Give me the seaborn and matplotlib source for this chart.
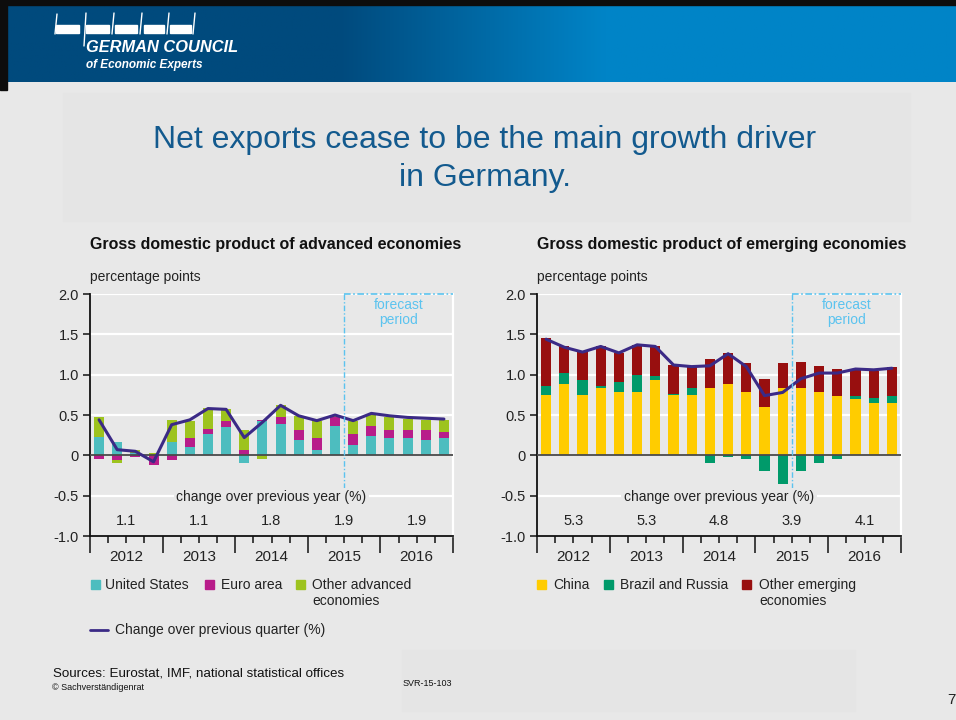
import numpy as np
import matplotlib
matplotlib.use("Agg")
import matplotlib.pyplot as plt
from matplotlib.patches import Rectangle
from matplotlib.lines import Line2D
import seaborn as sns

# ---------------------------------------------------------------- data
years = ["2012", "2013", "2014", "2015", "2016"]
quarters = [f"{y}Q{q}" for y in years for q in range(1, 5)]
forecast_start = "2015Q3"

adv_labels = ["United States", "Euro area", "Other advanced\neconomies"]
us = [0.23, 0.17, 0.03, 0.00, 0.17, 0.10, 0.27, 0.35, -0.09, 0.42,
      0.39, 0.19, 0.06, 0.36, 0.13, 0.24, 0.22, 0.21, 0.19, 0.21]
euro = [-0.04, -0.06, -0.025, -0.12, -0.06, 0.11, 0.06, 0.07, 0.06, 0.02,
        0.08, 0.12, 0.15, 0.12, 0.13, 0.12, 0.10, 0.10, 0.12, 0.08]
other_adv = [0.25, -0.04, 0.04, 0.03, 0.27, 0.22, 0.26, 0.15, 0.25, -0.04,
             0.15, 0.18, 0.21, 0.01, 0.17, 0.14, 0.16, 0.14, 0.13, 0.15]
adv_qoq = [0.44, 0.07, 0.05, -0.08, 0.38, 0.44, 0.58, 0.57, 0.22, 0.41,
           0.62, 0.49, 0.43, 0.50, 0.43, 0.52, 0.49, 0.47, 0.46, 0.45]
adv_yoy = ["1.1", "1.1", "1.8", "1.9", "1.9"]

em_labels = ["China", "Brazil and Russia", "Other emerging\neconomies"]
china = [0.75, 0.88, 0.75, 0.84, 0.79, 0.79, 0.93, 0.75, 0.75, 0.84,
         0.89, 0.79, 0.60, 0.84, 0.84, 0.78, 0.73, 0.70, 0.65, 0.65]
bra_rus = [0.11, 0.14, 0.18, 0.02, 0.12, 0.21, 0.05, 0.01, 0.08, -0.09,
           -0.02, -0.05, -0.20, -0.36, -0.20, -0.09, -0.04, 0.03, 0.06, 0.09]
other_em = [0.59, 0.33, 0.36, 0.49, 0.36, 0.37, 0.38, 0.36, 0.27, 0.36,
            0.38, 0.35, 0.35, 0.31, 0.32, 0.33, 0.34, 0.33, 0.34, 0.35]
em_qoq = [1.44, 1.34, 1.28, 1.35, 1.27, 1.37, 1.35, 1.12, 1.10, 1.11,
          1.26, 1.10, 0.74, 0.78, 0.95, 1.02, 1.02, 1.07, 1.06, 1.08]
em_yoy = ["5.3", "5.3", "4.8", "3.9", "4.1"]

y_ticks = [-1.0, -0.5, 0.0, 0.5, 1.0, 1.5, 2.0]
y_ticklabels = ["-1.0", "-0.5", "0", "0.5", "1.0", "1.5", "2.0"]

# ---------------------------------------------------------------- style
BG = "#e8e8e8"
BOX = "#e5e5e5"
LINE = "#3b2a86"
FCST = "#5bc3ef"
adv_colors = ["#4dbdbf", "#b81c8a", "#9dc31e"]
em_colors = ["#ffcc00", "#009a6a", "#980f0f"]

sns.set_theme(style="white", rc={"axes.facecolor": BG, "figure.facecolor": BG})
plt.rcParams["font.family"] = ["Liberation Sans", "DejaVu Sans"]

W, H = 956, 720
fig = plt.figure(figsize=(W / 100, H / 100), dpi=100)


def fx(px):
    return px / W


def fy(py):
    return 1 - py / H


# ---------------------------------------------------------------- header
hdr = fig.add_axes([fx(7), fy(82), fx(W - 7), (82 - 5) / H])
xs = np.linspace(0, 1, 600)
ramp = np.clip((xs - 0.35) / 0.28, 0, 1)
c0 = np.array([0, 74, 125]) / 255
c1 = np.array([0, 132, 199]) / 255
grad = (c0[None, :] * (1 - ramp[:, None]) + c1[None, :] * ramp[:, None])[None, :, :]
hdr.imshow(grad, aspect="auto", extent=[0, 1, 0, 1])
hdr.set_axis_off()
fig.patches.append(Rectangle((0, fy(5)), 1, 5 / H, transform=fig.transFigure,
                             color="#0d0d0d", zorder=10))
fig.patches.append(Rectangle((0, fy(90)), fx(7), 90 / H, transform=fig.transFigure,
                             color="#0d0d0d", zorder=10))

# logo: bar strip with slanted separators
segs = [(54, 80), (84, 110), (113, 138), (142, 165), (168, 192)]
for a, b in segs:
    fig.patches.append(Rectangle((fx(a + 2), fy(33)), fx(b - a - 3), 8 / H,
                                 transform=fig.transFigure, color="white", zorder=11))
for xv, y_top, y_bot in [(56, 14, 34), (85, 13, 46), (113, 13, 34), (141, 13, 34),
                         (168, 13, 34), (194, 13, 34)]:
    fig.lines.append(Line2D([fx(xv + 1), fx(xv - 1)], [fy(y_top), fy(y_bot)],
                            transform=fig.transFigure, color="white", lw=1.0, zorder=11))
fig.text(fx(86), fy(48), "GERMAN COUNCIL", color="white", fontsize=11.8,
         fontweight="bold", fontstyle="italic", va="center", ha="left")
fig.text(fx(86), fy(65), "of Economic Experts", color="white", fontsize=8.5,
         fontweight="bold", fontstyle="italic", va="center", ha="left")

# ---------------------------------------------------------------- title box
fig.patches.append(Rectangle((fx(63), fy(221)), fx(910 - 63), (221 - 93) / H,
                             transform=fig.transFigure, color=BOX, zorder=0))
fig.text(fx(485), fy(159), "Net exports cease to be the main growth driver\nin Germany.",
         ha="center", va="center", fontsize=23, color="#135a8e", linespacing=1.38)

# footer box
fig.patches.append(Rectangle((fx(402), fy(711)), fx(855 - 402), (711 - 650) / H,
                             transform=fig.transFigure, color=BOX, zorder=0))
fig.text(fx(53), fy(674), "Sources: Eurostat, IMF, national statistical offices",
         fontsize=9.6, va="center", ha="left", color="#111111")
fig.text(fx(52), fy(688), "© Sachverständigenrat", fontsize=6.5, va="center",
         ha="left", color="#111111")
fig.text(fx(403), fy(683), "SVR-15-103", fontsize=6.5, va="center", ha="left",
         color="#111111")
fig.text(fx(947), fy(700), "7", fontsize=11, va="center", ha="left", color="#222222")

# ---------------------------------------------------------------- panels
x = np.arange(len(quarters)) + 0.5
fc_idx = quarters.index(forecast_start)


def stacked_bars(ax, series, colors):
    pos = np.zeros(len(x))
    neg = np.zeros(len(x))
    for vals, col in zip(series, colors):
        v = np.asarray(vals, dtype=float)
        bottom = np.where(v >= 0, pos, neg)
        ax.bar(x, v, 0.55, bottom=bottom, color=col, linewidth=0, zorder=3)
        pos += np.clip(v, 0, None)
        neg += np.clip(v, None, 0)


def panel(left_px, right_px, subtitle, series, colors, qoq, yoy):
    ax = fig.add_axes([fx(left_px), fy(536), fx(right_px - left_px), (536 - 294) / H])
    ax.set_facecolor(BG)
    ax.set_xlim(0, len(quarters))
    ax.set_ylim(-1.0, 2.0)

    for yv in [-0.5, 0.5, 1.0, 1.5, 2.0]:
        ax.axhline(yv, color="white", lw=1.6, zorder=1)
    ax.axhline(0, color="#4a4a4a", lw=1.3, zorder=4)

    stacked_bars(ax, series, colors)
    sns.lineplot(x=x, y=qoq, ax=ax, color=LINE, lw=2.2, zorder=5)

    # forecast frame
    x0 = fc_idx
    ax.plot([x0, len(quarters)], [2.0, 2.0], color=FCST, lw=1.2,
            ls=(0, (4, 1.5, 1, 1.5)), zorder=6, clip_on=False)
    ax.plot([x0, x0], [2.0, -0.40], color=FCST, lw=1.0,
            ls=(0, (4, 1.5, 1, 1.5)), zorder=6)
    ax.text((x0 + len(quarters)) / 2, 1.77, "forecast\nperiod", ha="center",
            va="center", color=FCST, fontsize=10, linespacing=1.1)

    # year-on-year figures
    ax.text(len(quarters) / 2, -0.52, "change over previous year (%)", ha="center",
            va="center", fontsize=10, color="#222222", zorder=7,
            bbox=dict(facecolor=BG, edgecolor="none", pad=2))
    for i, val in enumerate(yoy):
        ax.text(4 * i + 2, -0.82, val, ha="center", va="center", fontsize=10.5,
                color="#222222")

    # axes decoration
    ax.spines["top"].set_visible(False)
    ax.spines["right"].set_color("white")
    ax.spines["right"].set_linewidth(1.6)
    ax.spines["left"].set_color("#111111")
    ax.spines["left"].set_linewidth(1.3)
    ax.spines["bottom"].set_color("#111111")
    ax.spines["bottom"].set_linewidth(1.3)

    ax.set_yticks(y_ticks)
    ax.set_yticklabels(y_ticklabels)
    ax.tick_params(axis="y", direction="out", length=5, width=1.1, color="#111111",
                   labelsize=10.5, labelcolor="#222222", pad=3, left=True)
    ax.set_xticks(np.arange(0, len(quarters) + 1, 4))
    ax.set_xticklabels([])
    ax.set_xticks(np.arange(0, len(quarters) + 1), minor=True)
    ax.tick_params(axis="x", which="major", direction="out", length=12, width=1.1,
                   color="#111111", bottom=True)
    ax.tick_params(axis="x", which="minor", direction="out", length=5, width=1.1,
                   color="#111111", bottom=True)
    ax.grid(False)
    ax.set_xlabel("")
    ax.set_ylabel("")
    trans = ax.get_xaxis_transform()
    for i, yr in enumerate(years):
        ax.text(4 * i + 2, -(557 - 536) / 242, yr, transform=trans, ha="center",
                va="center", fontsize=11, color="#222222")

    fig.text(fx(left_px), fy(244), subtitle, fontsize=11.5, fontweight="bold",
             ha="left", va="center", color="#111111")
    fig.text(fx(left_px), fy(277), "percentage points", fontsize=10, ha="left",
             va="center", color="#222222")
    return ax


ax1 = panel(90, 453, "Gross domestic product of advanced economies",
            [us, euro, other_adv], adv_colors, adv_qoq, adv_yoy)
ax2 = panel(537, 901, "Gross domestic product of emerging economies",
            [china, bra_rus, other_em], em_colors, em_qoq, em_yoy)


# ---------------------------------------------------------------- legends
def legend_row(entries):
    for sq_x, txt_x, label, col in entries:
        fig.patches.append(Rectangle((fx(sq_x), fy(589)), fx(9), 9 / H,
                                     transform=fig.transFigure, color=col))
        fig.text(fx(txt_x), fy(578), label, fontsize=10, ha="left", va="top",
                 color="#222222", linespacing=1.2)


legend_row(list(zip([91, 205, 296], [105, 221, 312], adv_labels, adv_colors)))
legend_row(list(zip([537, 604, 742], [553, 620, 759], em_labels, em_colors)))
fig.lines.append(Line2D([fx(90), fx(108)], [fy(630), fy(630)], transform=fig.transFigure,
                        color=LINE, lw=2.0))
fig.text(fx(115), fy(630), "Change over previous quarter (%)", fontsize=10,
         ha="left", va="center", color="#222222")

fig.savefig("out.png", dpi=100, facecolor=BG)
